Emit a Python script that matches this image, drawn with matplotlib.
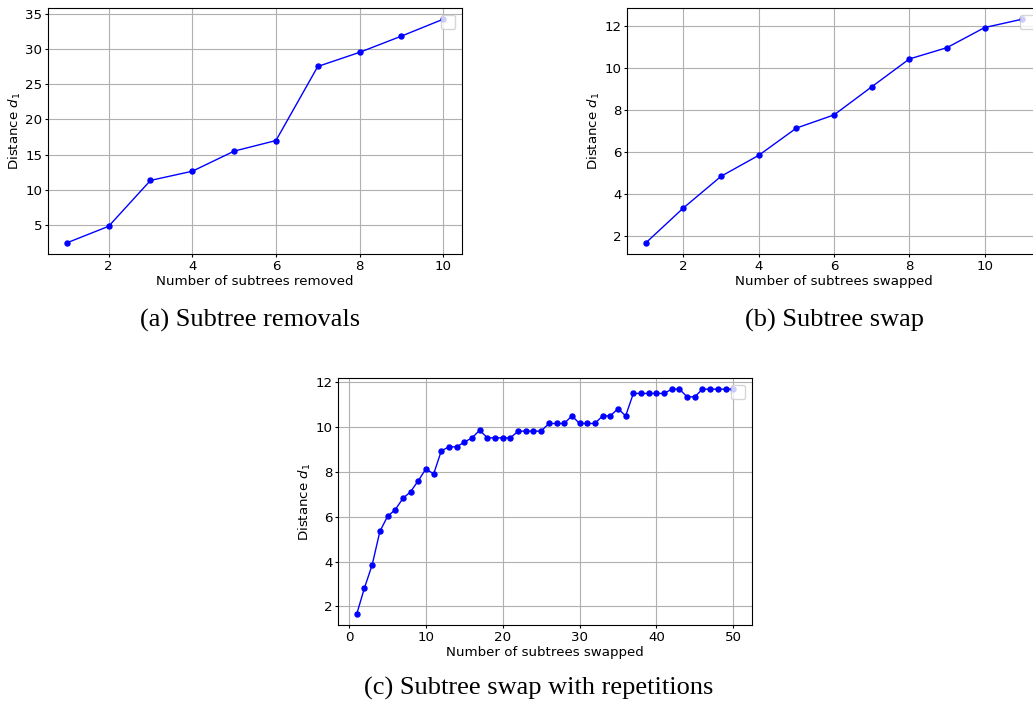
"""Three-panel distance plot: subtree removals, swaps, swaps with repetitions."""
import matplotlib
matplotlib.use("Agg")
import matplotlib.pyplot as plt

# (a) subtree removals
removed_n = [1, 2, 3, 4, 5, 6, 7, 8, 9, 10]
removed_d1 = [2.5, 4.85, 11.35, 12.65, 15.5, 17.0, 27.5, 29.5, 31.8, 34.2]

# (b) subtree swap
swap_n = [1, 2, 3, 4, 5, 6, 7, 8, 9, 10, 11]
swap_d1 = [1.65, 3.32, 4.83, 5.83, 7.13, 7.76, 9.1, 10.43, 10.97, 11.93, 12.33]

# (c) subtree swap with repetitions
rep_n = list(range(1, 51))
rep_d1 = [1.67, 2.83, 3.85, 5.34, 6.01, 6.31, 6.81, 7.11, 7.60, 8.13,
          7.90, 8.93, 9.11, 9.11, 9.32, 9.51, 9.85, 9.51, 9.51, 9.51,
          9.51, 9.81, 9.81, 9.81, 9.81, 10.15, 10.15, 10.15, 10.49, 10.15,
          10.15, 10.15, 10.49, 10.49, 10.81, 10.49, 11.49, 11.49, 11.49, 11.49,
          11.49, 11.68, 11.68, 11.34, 11.34, 11.68, 11.68, 11.68, 11.68, 11.68]

PANELS = [
    (removed_n, removed_d1, "Number of subtrees removed", "(a) Subtree removals",
     [0.0465, 0.6412, 0.4008, 0.3475], (0.242, 0.548)),
    (swap_n, swap_d1, "Number of subtrees swapped", "(b) Subtree swap",
     [0.607, 0.6412, 0.4008, 0.3475], (0.808, 0.548)),
    (rep_n, rep_d1, "Number of subtrees swapped", "(c) Subtree swap with repetitions",
     [0.3272, 0.1172, 0.4008, 0.349], (0.521, 0.028)),
]

plt.rcParams.update({
    "font.size": 9.6,
    "xtick.labelsize": 9.6,
    "ytick.labelsize": 9.6,
    "axes.labelsize": 9.6,
    "xtick.major.size": 2.5,
    "ytick.major.size": 2.5,
    "xtick.major.pad": 2.0,
    "ytick.major.pad": 1.5,
})

fig = plt.figure(figsize=(10.33, 7.08), dpi=100)

for xs, ys, xlabel, caption, rect, cpos in PANELS:
    ax = fig.add_axes(rect)
    ax.plot(xs, ys, "-o", color="blue", linewidth=1.0, markersize=3.6)
    ax.set_xlabel(xlabel, labelpad=1)
    ax.set_ylabel("Distance $d_1$", labelpad=2)
    ax.grid(True)
    # empty legend box, as in the original figure
    ax.legend(handles=[], loc="upper right", borderpad=0.55)
    fig.text(cpos[0], cpos[1], caption, ha="center", va="center",
             family="Liberation Serif", fontsize=19)

fig.savefig("out.png", dpi=100)
